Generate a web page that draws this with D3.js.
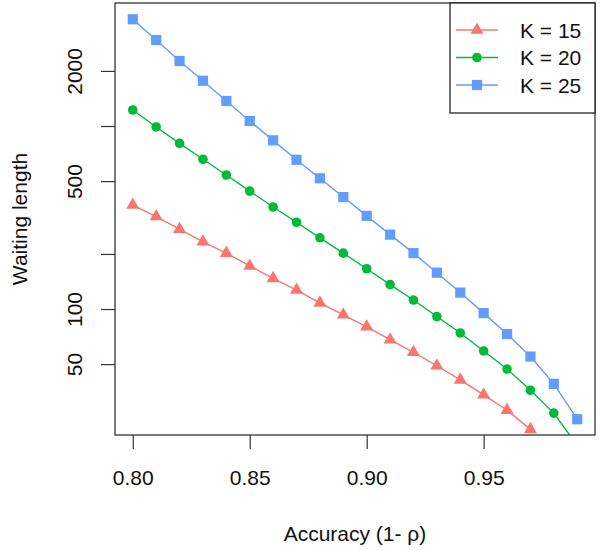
<!DOCTYPE html>
<html>
<head>
<meta charset="utf-8">
<script src="https://cdn.jsdelivr.net/npm/d3@7/dist/d3.min.js"></script>
<style>
  html, body { margin: 0; padding: 0; background: #fff; }
  svg { display: block; font-family: "Liberation Sans", Arial, sans-serif; }
</style>
</head>
<body>
<script>
// ---- data ----
const accuracy = [0.80, 0.81, 0.82, 0.83, 0.84, 0.85, 0.86, 0.87, 0.88, 0.89,
                  0.90, 0.91, 0.92, 0.93, 0.94, 0.95, 0.96, 0.97, 0.98, 0.99];
const k15 = [370, 320, 273, 233, 202, 172, 147, 127, 108, 93, 80, 68, 58, 49, 41, 34, 28, 22];
const k20 = [1223, 988, 804, 658, 540, 441, 361, 298, 245, 202, 166, 136, 112, 91, 74, 59, 47, 36, 27, 18];
const k25 = [3830, 2950, 2265, 1768, 1370, 1065, 835, 654, 518, 409, 323, 255, 202, 158, 123, 95, 73, 55, 39, 25];
const seriesNames = ["K = 15", "K = 20", "K = 25"];
const seriesColors = ["#F8766D", "#00BA38", "#619CFF"];
const seriesShapes = ["triangle", "circle", "square"];
const xTicks = [0.80, 0.85, 0.90, 0.95];
const yTicks = [50, 100, 200, 500, 1000, 2000];
const yTickLabels = ["50", "100", "", "500", "", "2000"];
const xTitle = "Accuracy (1- \u03C1)";
const yTitle = "Waiting length";

const W = 600, H = 550;
const L = 115, R = 595, T = 3, B = 435;
const fontSize = 21;

const svg = d3.select("body").append("svg").attr("width", W).attr("height", H);

const x = d3.scaleLinear().domain([0.7924, 0.9976]).range([L, R]);
const y = d3.scaleLog().domain([20.5, 4700]).range([B, T]);

svg.append("defs").append("clipPath").attr("id", "plotclip")
  .append("rect").attr("x", L).attr("y", T).attr("width", R - L).attr("height", B - T);

// axes
const xAxis = d3.axisBottom(x).tickValues(xTicks).tickFormat(d3.format(".2f")).tickSize(14).tickPadding(21);
const gx = svg.append("g").attr("transform", `translate(0,${B})`).call(xAxis);
gx.select(".domain").remove();
gx.selectAll("text").attr("font-size", fontSize).attr("fill", "#111").attr("font-family", "Liberation Sans, Arial, sans-serif");
gx.selectAll("line").attr("stroke", "#333").attr("stroke-width", 1.2);

const yAxis = d3.axisLeft(y).tickValues(yTicks).tickFormat((d, i) => yTickLabels[i]).tickSize(14);
const gy = svg.append("g").attr("transform", `translate(${L},0)`).call(yAxis);
gy.select(".domain").remove();
gy.selectAll("line").attr("stroke", "#333").attr("stroke-width", 1.2);
gy.selectAll("text")
  .attr("font-size", fontSize).attr("fill", "#111").attr("font-family", "Liberation Sans, Arial, sans-serif")
  .attr("x", null).attr("dy", null)
  .attr("text-anchor", "middle")
  .attr("transform", "translate(-33,0) rotate(-90)");

// titles
svg.append("text").attr("x", (L + R) / 2).attr("y", 541).attr("text-anchor", "middle")
  .attr("font-size", fontSize).attr("fill", "#111").text(xTitle);
svg.append("text").attr("transform", `translate(27,${(T + B) / 2}) rotate(-90)`)
  .attr("text-anchor", "middle").attr("font-size", fontSize).attr("fill", "#111").text(yTitle);

// symbols
function drawSymbol(g, shape, cx, cy, color) {
  if (shape === "triangle") {
    const r = 4.85;
    const h1 = 1.5551 * r, h2 = 0.7776 * r, hw = 1.3468 * r;
    g.append("path").attr("d", `M${cx},${cy - h1}L${cx + hw},${cy + h2}L${cx - hw},${cy + h2}Z`).attr("fill", color);
  } else if (shape === "circle") {
    g.append("circle").attr("cx", cx).attr("cy", cy).attr("r", 4.8).attr("fill", color);
  } else {
    const s = 5.1;
    g.append("rect").attr("x", cx - s).attr("y", cy - s).attr("width", 2 * s).attr("height", 2 * s).attr("fill", color);
  }
}

const allSeries = [k15, k20, k25];
const plotG = svg.append("g").attr("clip-path", "url(#plotclip)");
const line = d3.line().x(d => x(d[0])).y(d => y(d[1]));
allSeries.forEach((vals, si) => {
  const pts = vals.map((v, i) => [accuracy[i], v]);
  plotG.append("path").datum(pts).attr("d", line).attr("fill", "none")
    .attr("stroke", seriesColors[si]).attr("stroke-width", 1.4);
  pts.forEach(p => drawSymbol(plotG, seriesShapes[si], x(p[0]), y(p[1]), seriesColors[si]));
});

// box
svg.append("rect").attr("x", L).attr("y", T).attr("width", R - L).attr("height", B - T)
  .attr("fill", "none").attr("stroke", "#333").attr("stroke-width", 1.3);

// legend
const lg = svg.append("g");
lg.append("rect").attr("x", 450).attr("y", T).attr("width", R - 450).attr("height", 113 - T)
  .attr("fill", "#fff").attr("stroke", "#111").attr("stroke-width", 1.2);
seriesNames.forEach((name, i) => {
  const cy = 30 + i * 27.5;
  lg.append("line").attr("x1", 456).attr("x2", 498).attr("y1", cy).attr("y2", cy)
    .attr("stroke", seriesColors[i]).attr("stroke-width", 1.4);
  drawSymbol(lg, seriesShapes[i], 477, cy, seriesColors[i]);
  lg.append("text").attr("x", 520).attr("y", cy).attr("dy", "0.36em")
    .attr("font-size", fontSize).attr("fill", "#111").text(name);
});
</script>
</body>
</html>
